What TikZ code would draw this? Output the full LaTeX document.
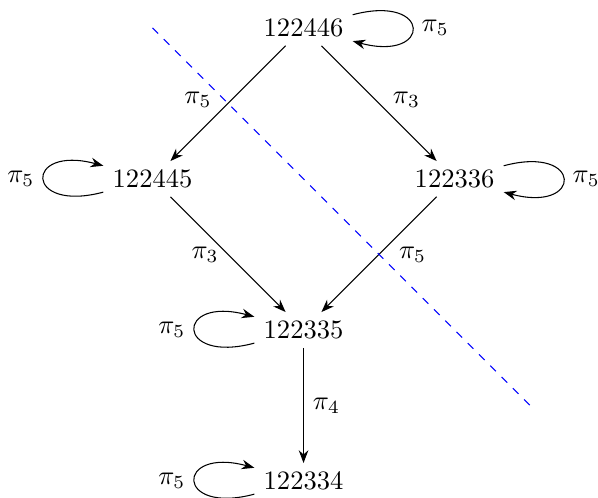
\documentclass[tikz,border=0pt]{standalone}
\usepackage{amsmath,amssymb}
\usetikzlibrary{arrows.meta}

\begin{document}
\begin{tikzpicture}[>=Stealth,every loop/.style={->}]
 \useasboundingbox (-4.02,-6.225) rectangle (3.90,0.37);
 % states
 \node (s446) at (0,0) {$122446$};
 \node (s445) at (-2,-2) {$122445$};
 \node (s336) at (2,-2) {$122336$};
 \node (s335) at (0,-4) {$122335$};
 \node (s334) at (0,-6) {$122334$};
 % transitions
 \draw[->] (s446) -- node[left=4pt,pos=.47] {$\pi_5$} (s445);
 \draw[->] (s446) -- node[right=3pt,pos=.47] {$\pi_3$} (s336);
 \draw[->] (s445) -- node[left=0pt] {$\pi_3$} (s335);
 \draw[->] (s336) -- node[right=4pt] {$\pi_5$} (s335);
 \draw[->] (s335) -- node[right] {$\pi_4$} (s334);
 % loops
 \path (s446) edge[loop right] node[right] {$\pi_5$} ();
 \path (s445) edge[loop left] node[left] {$\pi_5$} ();
 \path (s336) edge[loop right] node[right] {$\pi_5$} ();
 \path (s335) edge[loop left] node[left] {$\pi_5$} ();
 \path (s334) edge[loop left] node[left] {$\pi_5$} ();
 % cut
 \draw[blue,dashed] (-2,0) -- (3,-5);
\end{tikzpicture}
\end{document}
